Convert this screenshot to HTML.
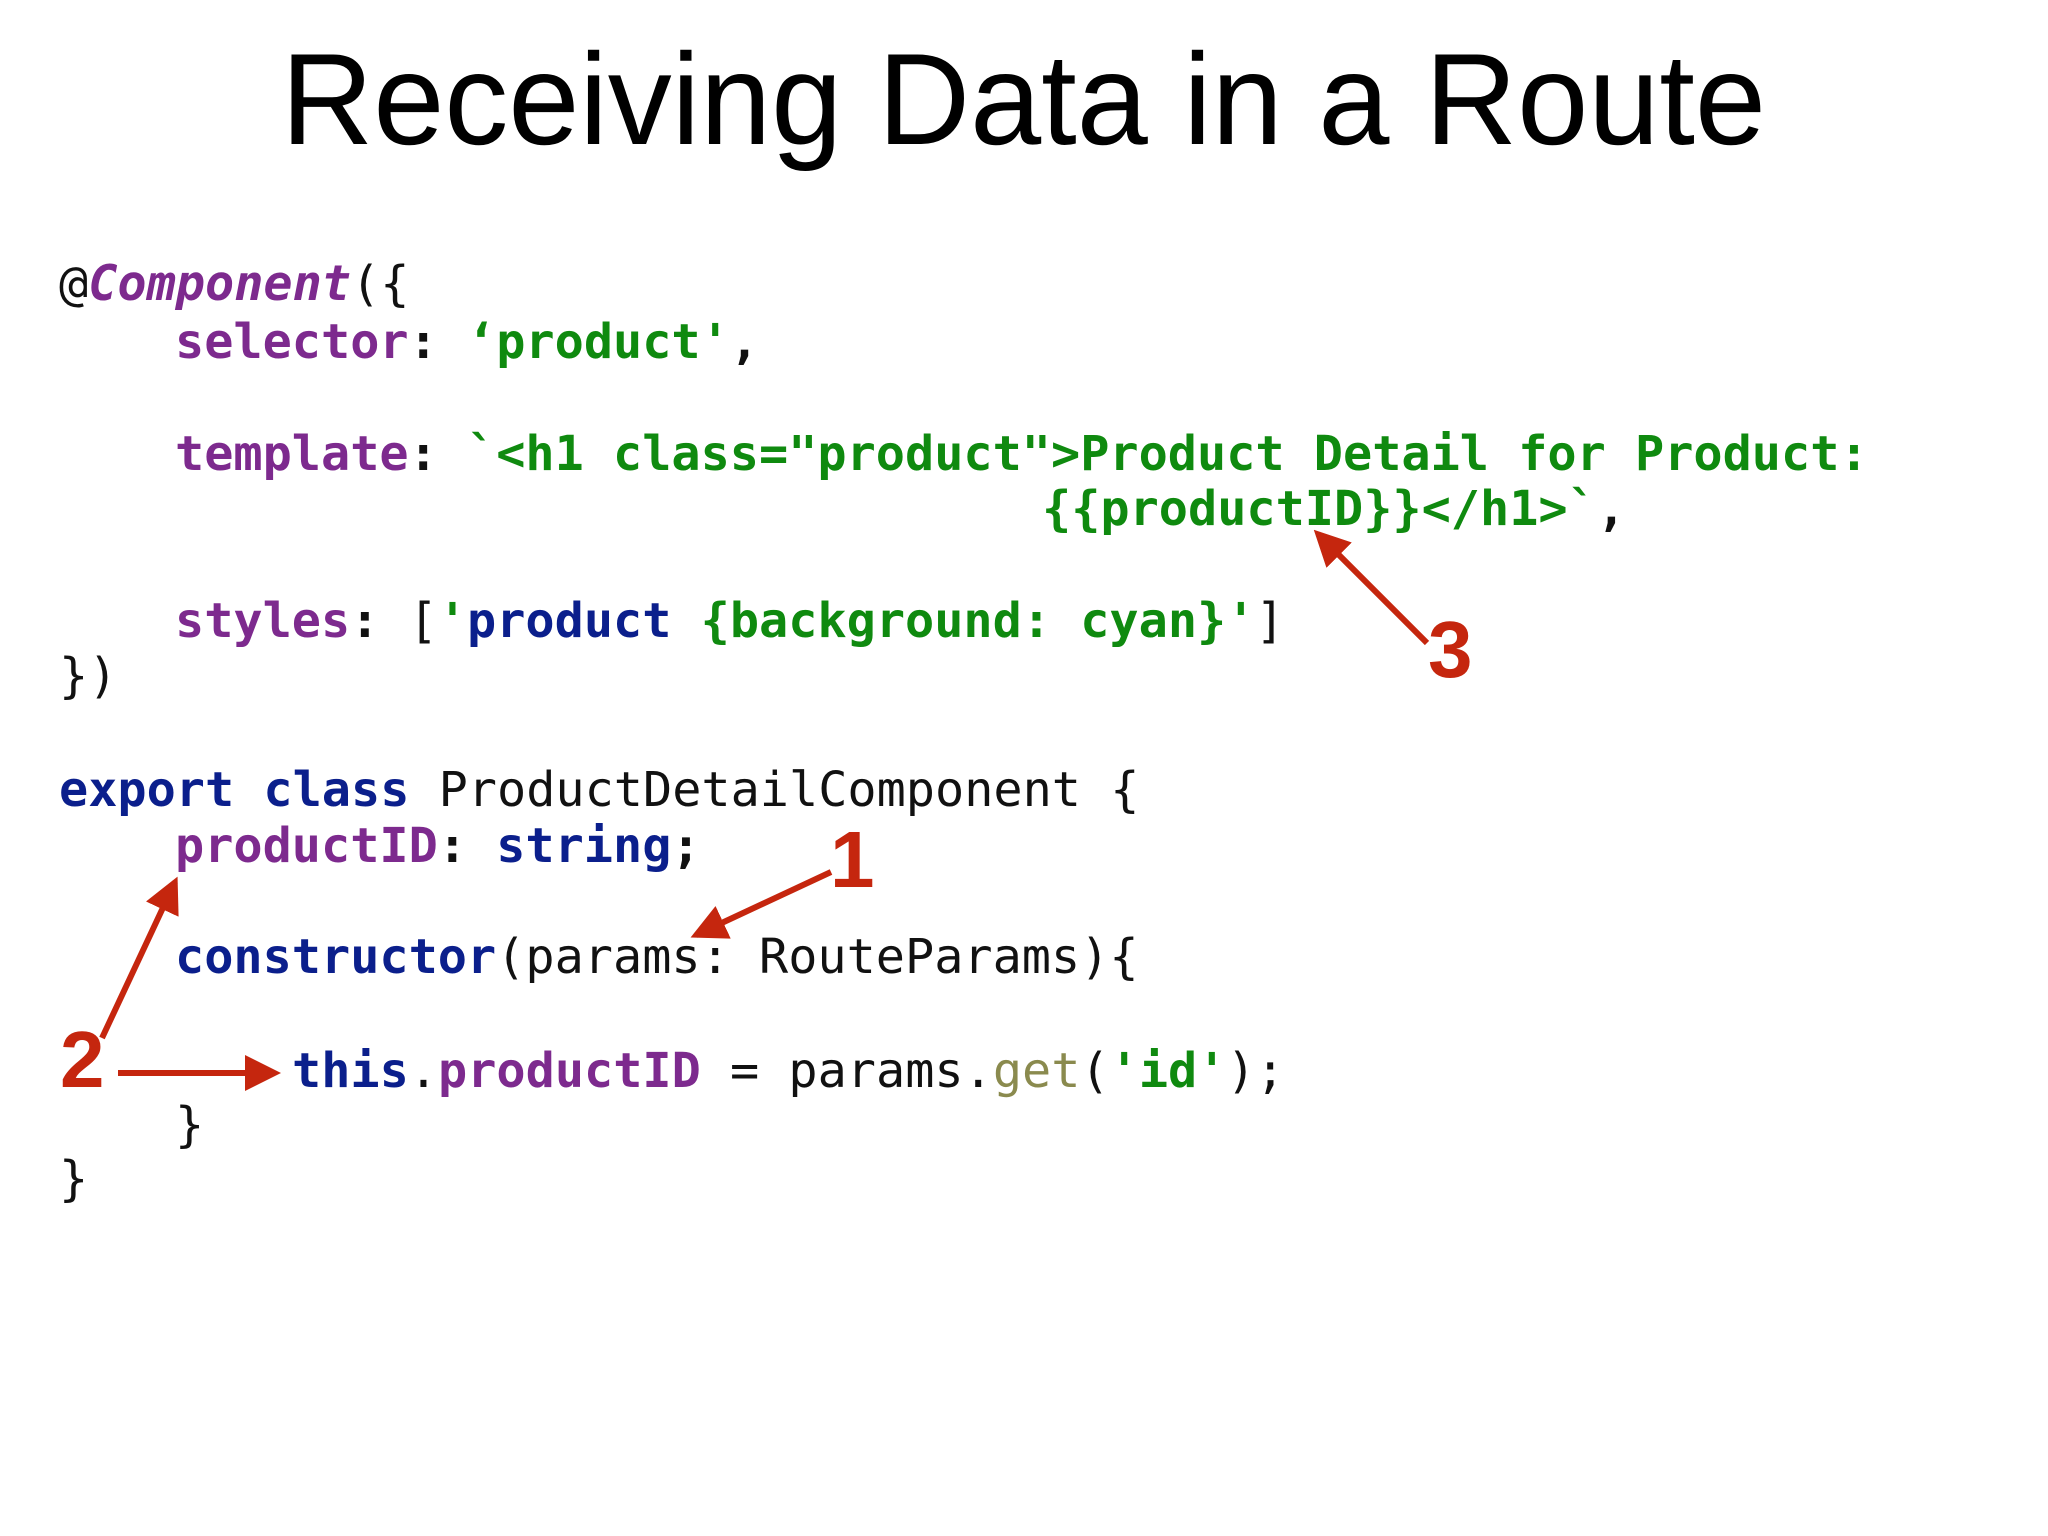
<!DOCTYPE html>
<html><head><meta charset="utf-8"><style>
html,body{margin:0;padding:0;background:#fff;}
svg{display:block;}
.c{font-family:"DejaVu Sans Mono","Liberation Mono",monospace;font-size:48.5px;}
.b{font-weight:bold;}
.p{fill:#7d2a8e;} .g{fill:#0f8a0f;} .bl{fill:#0b1f8c;} .k{fill:#111;} .o{fill:#8a8a4e;}
.n{font-family:"Liberation Sans",sans-serif;font-weight:bold;font-size:80px;fill:#c5260e;}
</style></head><body>
<svg width="2048" height="1536" viewBox="0 0 2048 1536" xmlns="http://www.w3.org/2000/svg">
<defs><marker id="a" markerWidth="6" markerHeight="6" refX="5" refY="3" orient="auto" markerUnits="strokeWidth"><path d="M0,0 L6,3 L0,6 z" fill="#c5260e"/></marker></defs>
<text x="281" y="144" font-family="'Liberation Sans',sans-serif" font-size="130" fill="#000" textLength="1485" lengthAdjust="spacingAndGlyphs">Receiving Data in a Route</text>
<g class="c" xml:space="preserve">
<text x="59" y="300"><tspan class="k">@</tspan><tspan class="p b" font-style="italic">Component</tspan><tspan class="k">({</tspan></text>
<text x="175" y="358"><tspan class="p b">selector</tspan><tspan class="k b">: </tspan><tspan class="g b">‘product'</tspan><tspan class="k b">,</tspan></text>
<text x="175" y="470"><tspan class="p b">template</tspan><tspan class="k b">: </tspan><tspan class="g b">`&lt;h1 class="product"&gt;Product Detail for Product:</tspan></text>
<text x="1042" y="525"><tspan class="g b">{{productID}}&lt;/h1&gt;`</tspan><tspan class="k b">,</tspan></text>
<text x="175" y="637"><tspan class="p b">styles</tspan><tspan class="k b">: </tspan><tspan class="k">[</tspan><tspan class="g b">'</tspan><tspan class="bl b">product</tspan><tspan class="g b"> {background: cyan}'</tspan><tspan class="k">]</tspan></text>
<text x="59" y="692" class="k">})</text>
<text x="59" y="806"><tspan class="bl b">export class</tspan><tspan class="k"> ProductDetailComponent {</tspan></text>
<text x="175" y="862"><tspan class="p b">productID</tspan><tspan class="k b">: </tspan><tspan class="bl b">string</tspan><tspan class="k b">;</tspan></text>
<text x="175" y="973"><tspan class="bl b">constructor</tspan><tspan class="k">(params: RouteParams){</tspan></text>
<text x="292" y="1087"><tspan class="bl b">this</tspan><tspan class="k">.</tspan><tspan class="p b">productID</tspan><tspan class="k"> = params.</tspan><tspan class="o">get</tspan><tspan class="k">(</tspan><tspan class="g b">'id'</tspan><tspan class="k">);</tspan></text>
<text x="175" y="1141" class="k">}</text>
<text x="59" y="1195" class="k">}</text>
</g>
<g stroke="#c5260e" stroke-width="6" fill="none">
<line x1="1427" y1="643" x2="1318" y2="534" marker-end="url(#a)"/>
<line x1="831" y1="872" x2="696" y2="935" marker-end="url(#a)"/>
<line x1="102" y1="1038" x2="175" y2="882" marker-end="url(#a)"/>
<line x1="118" y1="1073" x2="275" y2="1073" marker-end="url(#a)"/>
</g>
<text class="n" x="1428" y="677">3</text>
<text class="n" x="830" y="887">1</text>
<text class="n" x="60" y="1087">2</text>
</svg>
</body></html>
